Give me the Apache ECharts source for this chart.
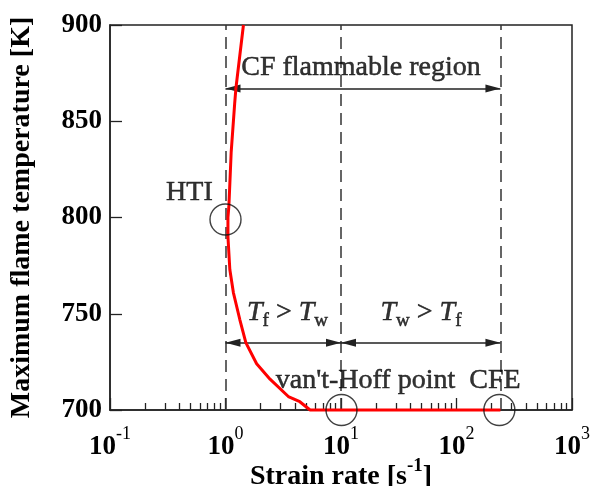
<!DOCTYPE html>
<html>
<head>
<meta charset="utf-8">
<script src="https://cdn.jsdelivr.net/npm/echarts@6/dist/echarts.min.js"></script>
<style>
  html, body { margin: 0; padding: 0; background: #fff; }
  #chart { width: 592px; height: 486px; }
</style>
</head>
<body>
<div id="chart"></div>
<script>
// Maximum flame temperature along the flame branch versus strain rate
const strainRate = [1.43, 1.23, 1.20, 1.12, 1.07, 1.05, 1.05, 1.09, 1.17, 1.33, 1.50, 1.86, 2.43, 3.50, 4.40, 5.40, 240];
const flameTemp  = [900,  867,  859,  834,  806,  800,  790,  773,  761,  747,  735,  724,  716,  707,  704.3, 700, 700];

// Axis ticks
const xExponents = [-1, 0, 1, 2, 3];
const yTicks = [700, 750, 800, 850, 900];

// Regime boundaries (strain rate): HTI, van't-Hoff point, CFE
const boundaries = [1, 10, 240];

// Marked points: HTI, van't-Hoff point, CFE
const markedRate = [1.0, 10.1, 235];
const markedTemp = [799, 700, 700];

// Span arrows: [from rate, to rate, temperature level]
const spanCF = [1, 240, 867];
const spanTfTw = [1, 10, 735];
const spanTwTf = [10, 240, 735];

// Annotation texts anchored in data units
const noteRate = [14.9, 0.487, 3.44, 49.3, 16.3, 215];
const noteTemp = [877.9, 812.7, 750.5, 750.5, 715.3, 715.3];
const noteText = [
  '{n|CF flammable region}',
  '{n|HTI}',
  '{i|T}{sub|f}{n| > }{i|T}{sub|w}',
  '{i|T}{sub|w}{n| > }{i|T}{sub|f}',
  "{n|van't-Hoff point}",
  '{n|CFE}'
];

const lg = v => Math.log10(v);
const serif = 'Liberation Serif';
const ink = '#000';
const frame = '#222';

// minor ticks at 2..9 of every decade
const minorTicks = [];
for (let e = -1; e < 3; e++) {
  for (let k = 2; k <= 9; k++) minorTicks.push(lg(k * Math.pow(10, e)));
}

// filled triangle whose tip sits at the symbol centre
const arrowHead = 'path://M0,0M4,15L8,30L0,30Z';

const chart = echarts.init(document.getElementById('chart'), null, { renderer: 'canvas' });

const inkText = { color: ink, textBorderColor: ink, textBorderWidth: 0.5 };
const noteRich = {
  n: Object.assign({ fontFamily: serif, fontSize: 28 }, inkText),
  i: Object.assign({ fontFamily: serif, fontSize: 28, fontStyle: 'italic' }, inkText),
  sub: Object.assign({ fontFamily: serif, fontSize: 19, padding: [16, 0, 0, 0] }, inkText)
};

const spanLine = (s) => [{ coord: [lg(s[0]), s[2]] }, { coord: [lg(s[1]), s[2]] }];

chart.setOption({
  animation: false,
  backgroundColor: '#fff',
  grid: {
    left: 110, right: 20, top: 25, bottom: 76,
    containLabel: false,
    outerBoundsMode: 'none',
    show: true, borderColor: frame, borderWidth: 1.5, backgroundColor: 'transparent'
  },
  xAxis: [
    {
      type: 'value', min: -1, max: 3, interval: 1,
      axisLine: { onZero: false, lineStyle: { color: frame, width: 1.5 } },
      axisTick: { inside: true, length: 12, lineStyle: { color: frame, width: 1.3 } },
      splitLine: { show: false },
      axisLabel: {
        margin: 15,
        customValues: xExponents,
        formatter: v => '{b|10}{sup|' + v + '}',
        rich: {
          b: { fontFamily: serif, fontSize: 27, fontWeight: 'bold', color: ink },
          sup: { fontFamily: serif, fontSize: 18, color: ink, padding: [0, 0, 26, 0] }
        }
      },
      name: '{b|Strain rate [s}{sup|-1}{b|]}',
      nameLocation: 'middle',
      nameGap: 47,
      nameMoveOverlap: false,
      nameTextStyle: {
        rich: {
          b: { fontFamily: serif, fontSize: 28, fontWeight: 'bold', color: ink },
          sup: { fontFamily: serif, fontSize: 19, fontWeight: 'bold', color: ink, padding: [0, 0, 20, 0] }
        }
      }
    },
    {
      type: 'value', min: -1, max: 3, position: 'bottom',
      axisLine: { show: false, onZero: false },
      axisLabel: { show: false },
      splitLine: { show: false },
      axisTick: { inside: true, length: 7, customValues: minorTicks, lineStyle: { color: frame, width: 1.3 } }
    }
  ],
  yAxis: {
    type: 'value', min: 700, max: 900, interval: 50,
    axisLine: { show: true, onZero: false, lineStyle: { color: frame, width: 1.5 } },
    axisTick: { inside: true, length: 12, lineStyle: { color: frame, width: 1.3 } },
    splitLine: { show: false },
    axisLabel: {
      margin: 8,
      fontFamily: serif, fontSize: 27, fontWeight: 'bold', color: ink,
      customValues: yTicks
    },
    name: 'Maximum flame temperature [K]',
    nameLocation: 'middle',
    nameGap: 74,
    nameMoveOverlap: false,
    nameTextStyle: { fontFamily: serif, fontSize: 28, fontWeight: 'bold', color: ink }
  },
  series: [
    {
      // regime boundaries
      type: 'line', data: [], silent: true,
      markLine: {
        silent: true,
        symbol: ['none', 'none'],
        label: { show: false },
        emphasis: { disabled: true },
        lineStyle: { color: '#333', width: 1.5, type: [12, 7] },
        data: boundaries.map(b => ({ xAxis: lg(b) }))
      }
    },
    {
      // span arrows
      type: 'line', data: [], silent: true,
      markLine: {
        silent: true,
        symbol: [arrowHead, arrowHead],
        symbolSize: [8, 30],
        label: { show: false },
        emphasis: { disabled: true },
        lineStyle: { color: frame, width: 1.5, type: 'solid' },
        itemStyle: { color: '#000' },
        data: [spanLine(spanCF), spanLine(spanTfTw), spanLine(spanTwTf)]
      }
    },
    {
      name: 'Tmax',
      type: 'line',
      clip: false,
      symbol: 'none',
      smooth: false,
      lineStyle: { color: '#ff0000', width: 3 },
      data: strainRate.map((r, i) => [lg(r), flameTemp[i]]),
      z: 5
    },
    {
      type: 'scatter',
      clip: false,
      symbol: 'circle',
      symbolSize: 31,
      itemStyle: { color: 'rgba(0,0,0,0)', borderColor: '#111', borderWidth: 1.4 },
      data: markedRate.map((r, i) => [lg(r), markedTemp[i]]),
      z: 6
    },
    {
      type: 'scatter',
      clip: false,
      symbolSize: 1,
      itemStyle: { color: 'rgba(0,0,0,0)' },
      label: { show: true, position: 'inside', rich: noteRich },
      data: noteRate.map((r, i) => ({
        value: [lg(r), noteTemp[i]],
        label: { formatter: noteText[i] }
      })),
      z: 7
    }
  ]
});
</script>
</body>
</html>
